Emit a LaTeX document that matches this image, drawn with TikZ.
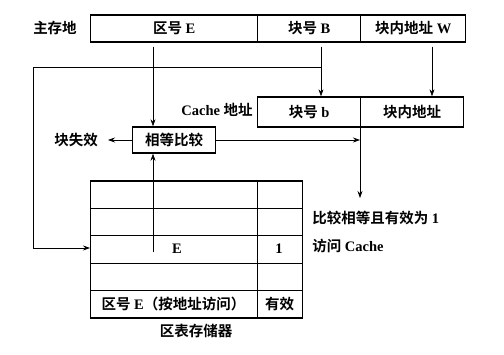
\documentclass[tikz,border=0pt]{standalone}
\usepackage{fontspec}
\setmainfont{Liberation Serif}
\newfontfamily\cjk{Noto Sans CJK SC}[BoldFont={Noto Sans CJK SC Bold}]
\usetikzlibrary{arrows.meta}
\tikzstyle{field} = [rectangle, draw, line width=1.4pt, inner sep=0pt, anchor=west]
\tikzstyle{lbl} = [inner sep=0pt]
\tikzstyle{arr} = [-{Stealth[length=7pt,width=5pt]}]

\begin{document}
\begin{tikzpicture}
    [x=1pt, y=-1pt, font=\fontsize{14.5}{16}\selectfont\bfseries, line width=0.7pt]
    \useasboundingbox (0,0) rectangle (504,354);
    % main memory address
    \node[lbl] (mlab) at (55,28) {\cjk 主存地};
    \node[field, minimum width=167pt, minimum height=27pt] (mE) at (90,28.5) {{\cjk 区号} E};
    \node[field, minimum width=103pt, minimum height=27pt] (mB) at (257,28.5) {{\cjk 块号} B};
    \node[field, minimum width=105pt, minimum height=27pt] (mW) at (360,28.5) {{\cjk 块内地址} W};
    % cache address
    \node[field, minimum width=103pt, minimum height=30pt] (cb) at (257,112) {{\cjk 块号} b};
    \node[field, minimum width=103pt, minimum height=30pt] (cw) at (360,112) {\cjk 块内地址};
    \node[lbl, anchor=east] (clab) at (253,110) {Cache {\cjk 地址}};
    % comparator
    \node[field, minimum width=83pt, minimum height=26pt] (cmp) at (132,140) {\cjk 相等比较};
    \node[lbl] (miss) at (76,140) {\cjk 块失效};
    \coordinate (missend) at (108,140);
    \coordinate (hit) at (360,140);
    \coordinate (res) at (360,198);
    \node[lbl, anchor=west] (t1) at (312,218) {{\cjk 比较相等且有效为} 1};
    \node[lbl, anchor=west] (t2) at (312,246) {{\cjk 访问} Cache};
    % table memory
    \node[field, minimum width=212pt, minimum height=137pt] (tab) at (90,249.5) {};
    \foreach \y in {208,235,263,290}
      \draw (tab.west |- 0,\y) -- (tab.east |- 0,\y);
    \draw (257,181) -- (257,318);
    \node[lbl] (tE) at (177,249) {E};
    \node[lbl] (tV) at (279,249) {1};
    \node[lbl] (hE) at (173.5,304) {{\cjk 区号} E{\cjk（按地址访问）}};
    \node[lbl] (hV) at (279.5,304) {\cjk 有效};
    \node[lbl] (tlab) at (196,331) {\cjk 区表存储器};
    \coordinate (ecell) at (153,252);
    \coordinate (tin) at (33,248);
    \coordinate (fork) at (321,67);
    % connectors
    \draw[arr] (mE.south -| 153,0) ++(0,4) -- (cmp.north -| 153,0);
    \draw[arr] (mB.south -| 321,0) ++(0,4) -- (cb.north -| 321,0);
    \draw[arr] (mW.south -| 432,0) ++(0,4) -- (cw.north -| 432,0);
    \draw[arr] (fork) -| (tin) -- (tab.west |- tin);
    \draw[arr] (cmp.west) -- (missend);
    \draw[arr] (cmp.east) -- (hit);
    \draw[arr] (cw.south west) -- (res);
    \draw[arr] (ecell) -- (cmp.south -| ecell);
\end{tikzpicture}
\end{document}
